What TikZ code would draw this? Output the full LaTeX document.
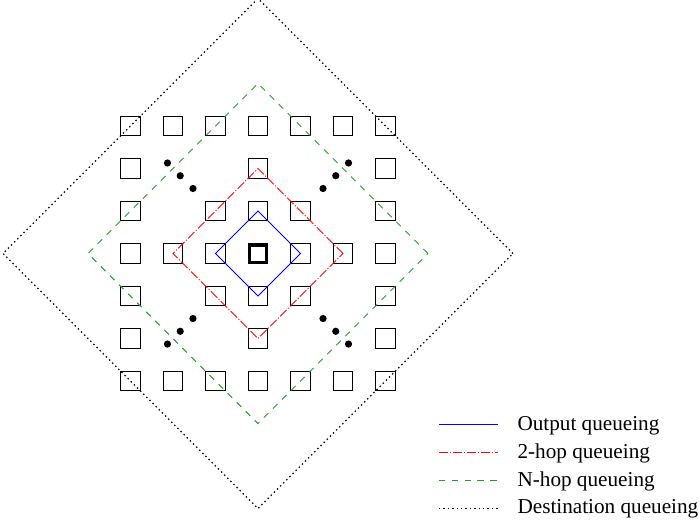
\documentclass[tikz,border=0pt]{standalone}
\usepackage{fontspec}
\setmainfont{Liberation Serif}
\usetikzlibrary{positioning}
\definecolor{outblue}{RGB}{0,0,255}
\definecolor{twored}{RGB}{255,0,0}
\definecolor{nhopgreen}{RGB}{30,160,30}

\begin{document}
\begin{tikzpicture}[x=21.25pt, y=21.25pt, node distance=9pt,
  cell/.style={draw, line width=0.5pt, minimum size=9.6pt, inner sep=0pt},
  hub/.style={cell, line width=1.6pt, minimum size=8.6pt},
  outq/.style={draw=outblue, line width=0.5pt},
  twohop/.style={draw=twored, line width=0.5pt,
    dash pattern=on 4.5pt off 1pt on 0.5pt off 1pt},
  nhop/.style={draw=nhopgreen, line width=0.5pt,
    dash pattern=on 3.2pt off 3.2pt},
  destq/.style={draw=black, line width=0.6pt,
    dash pattern=on 0.7pt off 1.5pt},
  legtext/.style={font=\fontsize{10.6pt}{12.7pt}\selectfont, inner sep=0pt,
    anchor=base west}]
\useasboundingbox (-6.07,-6.294) rectangle (10.376,5.965);

% switch grid: outer ring plus the inner neighbourhood
\foreach \i in {-3,...,3} {
  \foreach \j in {-3,...,3} {
    \pgfmathtruncatemacro{\ai}{abs(\i)}
    \pgfmathtruncatemacro{\aj}{abs(\j)}
    \pgfmathtruncatemacro{\dist}{\ai+\aj}
    \ifnum\ai=3 \node[cell] (sq\i\j) at (\i,\j) {};
    \else\ifnum\aj=3 \node[cell] (sq\i\j) at (\i,\j) {};
    \else\ifnum\dist=0 \node[hub] (sq\i\j) at (\i,\j) {};
    \else\ifnum\dist<3 \node[cell] (sq\i\j) at (\i,\j) {};
    \fi\fi\fi\fi
  }
}

% queueing regions
\draw[outq] (1,0) -- (0,1) -- (-1,0) -- (0,-1) -- cycle;
\draw[twohop] (2,0) -- (0,2) -- (-2,0) -- (0,-2) -- cycle;
\draw[nhop] (4,0) -- (0,4) -- (-4,0) -- (0,-4) -- cycle;
\draw[destq] (6,0) -- (0,6) -- (-6,0) -- (0,-6) -- cycle;

% dots along the diagonals
\foreach \sx/\sy in {1/1, -1/1, 1/-1, -1/-1} {
  \foreach \t in {1.53,1.83,2.13}
    \fill (\sx*\t,\sy*\t) circle (0.085);
}

% legend
\coordinate (l1a) at (4.26,-4.03);  \coordinate (l1b) at (5.65,-4.03);
\coordinate (l2a) at (4.26,-4.685); \coordinate (l2b) at (5.65,-4.685);
\coordinate (l3a) at (4.26,-5.34);  \coordinate (l3b) at (5.65,-5.34);
\coordinate (l4a) at (4.26,-5.995); \coordinate (l4b) at (5.65,-5.995);
\draw[outq] (l1a) -- (l1b);
\draw[twohop] (l2a) -- (l2b);
\draw[nhop] (l3a) -- (l3b);
\draw[destq] (l4a) -- (l4b);
\node[legtext] (t1) at ([xshift=9.5pt,yshift=-2.8pt]l1b) {Output queueing};
\node[legtext] (t2) at ([xshift=9.5pt,yshift=-2.8pt]l2b) {2-hop queueing};
\node[legtext] (t3) at ([xshift=9.5pt,yshift=-2.8pt]l3b) {N-hop queueing};
\node[legtext] (t4) at ([xshift=9.5pt,yshift=-2.8pt]l4b) {Destination queueing};
\end{tikzpicture}
\end{document}
